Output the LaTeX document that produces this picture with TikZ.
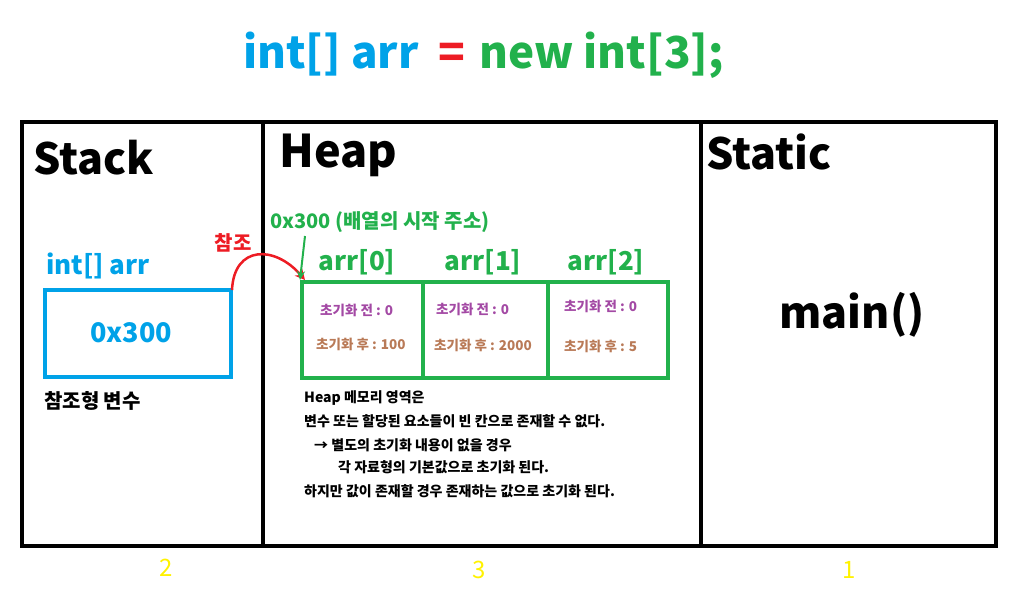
\documentclass[tikz,border=0pt]{standalone}
\usepackage{fontspec}
\setmainfont{Noto Sans CJK KR}
\usetikzlibrary{arrows.meta}
\definecolor{cblue}{RGB}{0,162,232}
\definecolor{cgreen}{RGB}{34,177,76}
\definecolor{cred}{RGB}{237,28,36}
\definecolor{cpurple}{RGB}{163,73,164}
\definecolor{cbrown}{RGB}{185,122,87}
\definecolor{cyel}{RGB}{255,242,0}
\tikzset{
  frame/.style={draw=black,line width=4pt},
  big/.style={font=\bfseries\fontsize{43}{46}\selectfont,anchor=west,inner sep=0pt},
  idx/.style={font=\bfseries\fontsize{26}{30}\selectfont,text=cgreen,inner sep=0pt},
  before/.style={font=\bfseries\fontsize{13.5}{15}\selectfont,text=cpurple,anchor=west,inner sep=0pt},
  after/.style={font=\bfseries\fontsize{13.5}{15}\selectfont,text=cbrown,anchor=west,inner sep=0pt},
  note/.style={font=\bfseries\fontsize{14}{16}\selectfont,anchor=west,inner sep=0pt},
  yelmark/.style={font=\fontsize{24}{26}\selectfont,text=cyel,inner sep=0pt},
}
\begin{document}
\begin{tikzpicture}[x=1pt,y=-1pt]
\useasboundingbox (0,0) rectangle (1023,590);
% title
\node[font=\bfseries\fontsize{44}{48}\selectfont,inner sep=0pt,anchor=base west] (t1) at (243,68) {\textcolor{cblue}{int[] arr}\hspace{20pt}\textcolor{cred}{=}\hspace{14pt}\textcolor{cgreen}{new int[3];}};
% frames
\draw[frame] (22,122) rectangle (996,546);
\draw[frame] (263,122) -- (263,546);
\draw[frame] (701,122) -- (701,546);
% headers
\node[big] (stack) at (33,158) {Stack};
\node[big,font=\bfseries\fontsize{45}{48}\selectfont] (heap) at (279,155) {Heap};
\node[big] (static) at (706,152) {Static};
% stack
\node[font=\bfseries\fontsize{26}{30}\selectfont,text=cblue,anchor=west,inner sep=0pt] (arrlbl) at (46,266) {int[] arr};
\node[draw=cblue,line width=4pt,minimum width=186pt,minimum height=87pt,inner sep=0pt] (ref) at (138,333.5) {};
\node[font=\bfseries\fontsize{27}{30}\selectfont,text=cblue,inner sep=0pt] (refval) at (131,333) {0x300};
\node[font=\bfseries\fontsize{20}{22}\selectfont,anchor=west,inner sep=0pt] (refvar) at (44,401) {참조형 변수};
% reference arrow
\node[font=\bfseries\fontsize{20}{22}\selectfont,text=cred,inner sep=0pt] (refl) at (233,243) {참조};
\coordinate (c0) at (232,290);
\coordinate (c1) at (305,280);
\draw[cred,line width=2.5pt,-{Stealth[length=10pt,width=10pt]}] (c0) .. controls (234,245) and (275,245) .. (c1);
% heap
\node[font=\bfseries\fontsize{20}{22}\selectfont,text=cgreen,anchor=west,inner sep=0pt] (addr) at (270,222) {0x300 (배열의 시작 주소)};
\node[idx] (a0) at (357,262) {arr[0]};
\node[idx] (a1) at (483,262) {arr[1]};
\node[idx] (a2) at (606,262) {arr[2]};
\node[draw=cgreen,line width=4pt,minimum width=366pt,minimum height=96pt,inner sep=0pt] (arr) at (485,330) {};
\draw[cgreen,line width=4pt] (423,282) -- (423,378);
\draw[cgreen,line width=4pt] (548,282) -- (548,378);
\draw[cgreen,line width=2pt,-{Stealth[length=9pt,width=8pt]}] (305,236) -- (arr.north west);
\node[before] (b0) at (320,310) {초기화 전 : 0};
\node[after] (f0) at (316,344) {초기화 후 : 100};
\node[before] (b1) at (436,309) {초기화 전 : 0};
\node[after] (f1) at (434,345) {초기화 후 : 2000};
\node[before] (b2) at (564,306) {초기화 전 : 0};
\node[after] (f2) at (564,346) {초기화 후 : 5};
% notes
\node[note] (n1) at (304,398) {Heap 메모리 영역은};
\node[note] (n2) at (304,421) {변수 또는 할당된 요소들이 빈 칸으로 존재할 수 없다.};
\node[note] (n3) at (314,445) {→ 별도의 초기화 내용이 없을 경우};
\node[note] (n4) at (338,467) {각 자료형의 기본값으로 초기화 된다.};
\node[note] (n5) at (304,491) {하지만 값이 존재할 경우 존재하는 값으로 초기화 된다.};
% static
\node[font=\bfseries\fontsize{43}{46}\selectfont,inner sep=0pt] (main) at (852,315) {main()};
% marks
\node[yelmark] (m2) at (166,568) {2};
\node[yelmark] (m3) at (479,570) {3};
\node[yelmark] (m1) at (849,570) {1};
\end{tikzpicture}
\end{document}
